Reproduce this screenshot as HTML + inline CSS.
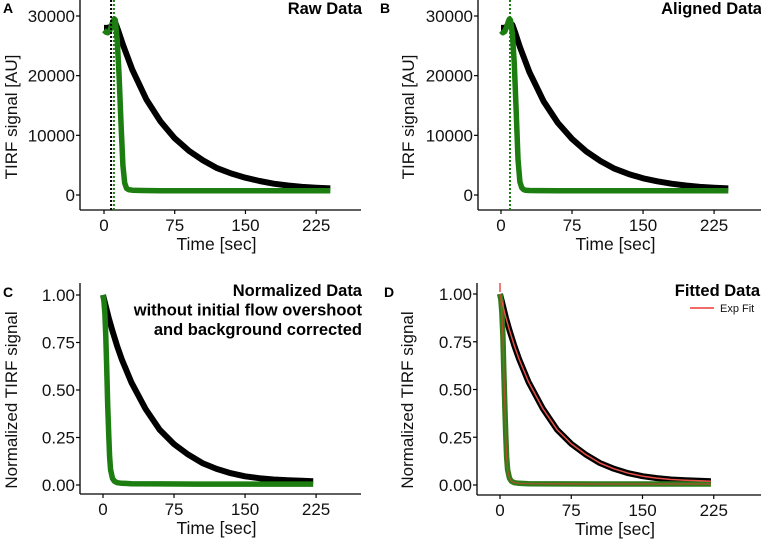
<!DOCTYPE html>
<html><head><meta charset="utf-8"><style>
body{margin:0;background:#fff;}
svg{display:block;font-family:"Liberation Sans",Arial,sans-serif;}
</style></head><body>
<svg id="fig" width="761" height="539" viewBox="0 0 761 539"></svg>
<script>
// ---- data ----
const rawTimes=[0,3,6,8,10,12,15,20,30,45,60,75,90,105,120,135,150,165,180,195,210,225,240];
const rawBlack=[28000,28000,28100,28300,29000,28900,27600,25200,21000,16000,12300,9500,7400,5800,4500,3600,2900,2350,1900,1600,1350,1200,1100];
const greenTimes=[0,2,4,6,8,10,11,12,14,16,18,20,22,24,26,30,40,60,100,150,200,240];
const rawGreen=[27600,27300,27200,27500,28400,29300,29500,29300,26000,20000,12000,5000,2000,1100,900,800,750,720,700,700,700,700];
const alBlackTimes=[0,3,5,7,9,12,15,20,30,45,60,75,90,105,120,135,150,165,180,195,210,225,240];
const alBlack=[28000,28000,28100,28400,28900,28500,27200,24800,20600,15700,12100,9400,7300,5700,4400,3500,2800,2300,1900,1600,1350,1200,1100];
const alGreenTimes=[0,2,4,6,8,9,10,12,14,16,18,20,22,24,26,30,40,60,100,150,200,240];
const alGreen=[27500,27200,27400,28200,29200,29500,29300,27000,22000,14000,6000,2200,1200,900,800,760,740,720,700,700,700,700];
const normTimes=[0,3,6,10,15,20,30,45,60,75,90,105,120,135,150,165,180,195,210,222];
const normBlack=[1.0,0.94,0.88,0.81,0.73,0.66,0.54,0.40,0.29,0.215,0.16,0.115,0.085,0.062,0.046,0.036,0.029,0.025,0.022,0.02];
const normGreenTimes=[0,1,2,3,4,5,6,7,8,10,12,15,20,30,60,100,150,200,222];
const normGreen=[1.0,0.97,0.9,0.78,0.6,0.42,0.27,0.15,0.08,0.035,0.02,0.012,0.009,0.007,0.006,0.005,0.005,0.005,0.005];
const xTicks=[0,75,150,225];
const rawYTicks=[0,10000,20000,30000];
const normYTicks=[0,0.25,0.5,0.75,1.0];
const normYLabels=["0.00","0.25","0.50","0.75","1.00"];

const NS="http://www.w3.org/2000/svg";
const svg=document.getElementById('fig');
function mk(tag,attrs,parent){const e=document.createElementNS(NS,tag);for(const k in attrs)e.setAttribute(k,attrs[k]);(parent||svg).appendChild(e);return e;}
function txt(s,attrs,parent){const e=mk('text',attrs,parent);e.textContent=s;return e;}

function panel(p){
  const g=mk('g',{});
  
  
  const xs=t=>p.x0px+t*p.xs;
  const ys=v=>p.y0px-v*p.ys;
  p.xsFn=xs;p.ysFn=ys;
  const ya=mk('line',{x1:p.axX,y1:p.top,x2:p.axX,y2:p.axY,stroke:'#000','stroke-width':1.3},g);
  
  const xa=mk('line',{x1:p.axX,y1:p.axY,x2:p.right,y2:p.axY,stroke:'#000','stroke-width':1.3},g);
  
  xTicks.forEach(t=>{
    mk('line',{x1:xs(t),y1:p.axY,x2:xs(t),y2:p.axY+4,stroke:'#000','stroke-width':1.2},g);
    const l=txt(String(t),{x:xs(t),y:p.axY+21,'font-size':17,'text-anchor':'middle',fill:'#111'},g);
    
  });
  p.yTicks.forEach((v,i)=>{
    mk('line',{x1:p.axX-4,y1:ys(v),x2:p.axX,y2:ys(v),stroke:'#000','stroke-width':1.2},g);
    const l=txt(p.yLabels[i],{x:p.axX-5,y:ys(v)+6,'font-size':17,'text-anchor':'end',fill:'#111'},g);
    
  });
  const xt=txt('Time [sec]',{x:(p.axX+p.right)/2-4,y:p.axY+40,'font-size':17.5,'text-anchor':'middle',fill:'#111'},g);
  
  const cy=p.ytY;
  const yt=txt(p.ytitle,{x:p.ytX,y:cy,'font-size':17,'text-anchor':'middle',fill:'#111',transform:`rotate(-90 ${p.ytX} ${cy})`},g);
  
  const lt=txt(p.letter,{x:p.letX,y:p.letY,'font-size':14,'font-weight':'bold',fill:'#000'},g);
  
  p.title.forEach((s,i)=>{
    const t=txt(s,{x:p.titleX,y:p.titleY+i*19.5,'font-size':16.5,'font-weight':'bold','text-anchor':'end',fill:'#000'},g);
    
  });
  return g;
}
function series(g,p,T,V,color,w,name,dash){
  const d=T.map((t,i)=>(i?'L':'M')+p.xsFn(t).toFixed(1)+','+p.ysFn(V[i]).toFixed(1)).join(' ');
  const a={d:d,fill:'none',stroke:color,'stroke-width':w,'stroke-linejoin':'round','stroke-linecap':'butt'};
  if(dash)a['stroke-dasharray']=dash;
  const e=mk('path',a,g);
  
  return e;
}
function vline(g,p,t,color,name){
  const e=mk('line',{x1:p.xsFn(t),y1:p.top,x2:p.xsFn(t),y2:p.axY,stroke:color,'stroke-width':2,'stroke-dasharray':'2,2'},g);
  
}
const GREEN='#1c7d10';
const rawLabels=rawYTicks.map(String);
// Panel A
const pA={name:'panel-a-raw-data',axX:80,axY:210,top:0,right:361,x0px:104,xs:0.943,y0px:195,ys:179/30000,
  yTicks:rawYTicks,yLabels:rawLabels,ytitle:'TIRF signal [AU]',ytX:17,ytY:117,letter:'A',letX:3,letY:13,title:['Raw Data'],titleX:362,titleY:14};
const gA=panel(pA);
series(gA,pA,rawTimes,rawBlack,'#000',6,'raw-black-series');
series(gA,pA,greenTimes,rawGreen,GREEN,5.5,'raw-green-series');
vline(gA,pA,7.5,'#000','black-start-marker');
vline(gA,pA,10.5,GREEN,'green-start-marker');
// Panel B
const pB={name:'panel-b-aligned-data',axX:478,axY:210,top:0,right:761,x0px:501,xs:0.947,y0px:195,ys:179/30000,
  yTicks:rawYTicks,yLabels:rawLabels,ytitle:'TIRF signal [AU]',ytX:414,ytY:117,letter:'B',letX:380,letY:13,title:['Aligned Data'],titleX:762,titleY:14};
const gB=panel(pB);
series(gB,pB,alBlackTimes,alBlack,'#000',6,'aligned-black-series');
series(gB,pB,alGreenTimes,alGreen,GREEN,5.5,'aligned-green-series');
vline(gB,pB,9.5,GREEN,'aligned-start-marker');
// Panel C
const pC={name:'panel-c-normalized-data',axX:80,axY:494,top:283,right:361,x0px:103,xs:0.947,y0px:485,ys:190,
  yTicks:normYTicks,yLabels:normYLabels,ytitle:'Normalized TIRF signal',ytX:17,ytY:400,letter:'C',letX:3,letY:297,
  title:['Normalized Data','without initial flow overshoot','and background corrected'],titleX:362,titleY:296};
const gC=panel(pC);
series(gC,pC,normTimes,normBlack,'#000',6,'normalized-black-series');
series(gC,pC,normGreenTimes,normGreen,GREEN,5.5,'normalized-green-series');
// Panel D
const pD={name:'panel-d-fitted-data',axX:477,axY:495,top:283,right:761,x0px:500,xs:0.95,y0px:485,ys:191,
  yTicks:normYTicks,yLabels:normYLabels,ytitle:'Normalized TIRF signal',ytX:413,ytY:400,letter:'D',letX:384,letY:297,title:['Fitted Data'],titleX:760,titleY:296};
const gD=panel(pD);
series(gD,pD,normTimes,normBlack,'#000',6,'fitted-black-series');
series(gD,pD,normGreenTimes,normGreen,'#2e7d1a',5.5,'fitted-green-series');
series(gD,pD,normTimes,normBlack,'#e8504a',1.5,'exp-fit-black');
series(gD,pD,normGreenTimes,normGreen,'#b0502a',1.2,'exp-fit-green');
mk('line',{x1:500,y1:283,x2:500,y2:292,stroke:'#e8504a','stroke-width':1.5},gD);
const lg=mk('g',{},gD);

mk('line',{x1:690,y1:308,x2:714,y2:308,stroke:'#ee6b66','stroke-width':2},lg);
txt('Exp Fit',{x:720,y:312,'font-size':11,fill:'#111'},lg);
</script>
</body></html>
